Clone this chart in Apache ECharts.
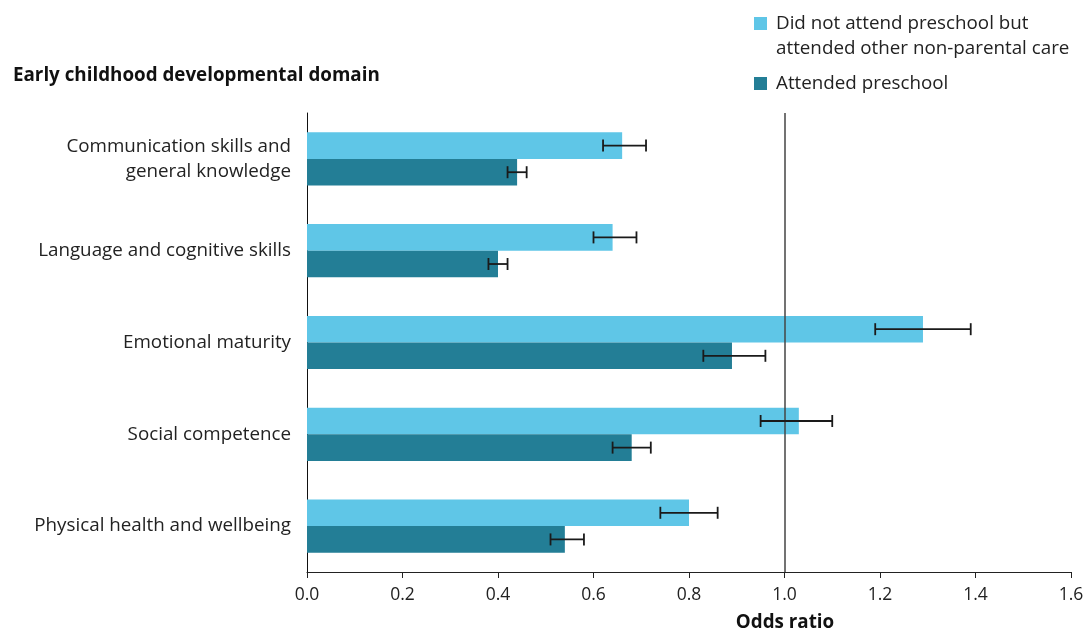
<!DOCTYPE html>
<html>
<head>
<meta charset="utf-8">
<script src="https://cdn.jsdelivr.net/npm/echarts@6/dist/echarts.min.js"></script>
<style>
html,body{margin:0;padding:0;background:#fff;}
#chart{width:1088px;height:633px;}
</style>
</head>
<body>
<div id="chart"></div>
<script>
var categories = ['Communication skills and\ngeneral knowledge', 'Language and cognitive skills', 'Emotional maturity', 'Social competence', 'Physical health and wellbeing'];
var noPreschool = [0.66, 0.64, 1.29, 1.03, 0.80];
var noPreschoolLow = [0.62, 0.60, 1.19, 0.95, 0.74];
var noPreschoolHigh = [0.71, 0.69, 1.39, 1.10, 0.86];
var preschool = [0.44, 0.40, 0.89, 0.68, 0.54];
var preschoolLow = [0.42, 0.38, 0.83, 0.64, 0.51];
var preschoolHigh = [0.46, 0.42, 0.96, 0.72, 0.58];
var xTicks = [0, 0.2, 0.4, 0.6, 0.8, 1.0, 1.2, 1.4, 1.6];
var refValue = 1.0;
var seriesNames = ['Did not attend preschool but\nattended other non-parental care', 'Attended preschool'];

var FONT = '"Open Sans", "Noto Sans", sans-serif';
var FS = 18.8;
var LIGHT = '#5FC6E7';
var DARK = '#237E96';
var GAP = 0.42;

function errData(lo, hi) {
  return lo.map(function (l, i) { return [i, l, hi[i]]; });
}
function errRender(side) {
  return function (params, api) {
    var idx = api.value(0);
    var lo = api.coord([api.value(1), idx]);
    var hi = api.coord([api.value(2), idx]);
    var band = api.size([0, 1])[1];
    var bw = band * (1 - GAP) / 2;
    var y = lo[1] + side * bw / 2;
    var cap = 6;
    var st = { stroke: '#1a1a1a', lineWidth: 1.8 };
    return {
      type: 'group',
      children: [
        { type: 'line', shape: { x1: lo[0], y1: y, x2: hi[0], y2: y }, style: st },
        { type: 'line', shape: { x1: lo[0], y1: y - cap, x2: lo[0], y2: y + cap }, style: st },
        { type: 'line', shape: { x1: hi[0], y1: y - cap, x2: hi[0], y2: y + cap }, style: st }
      ]
    };
  };
}

var chart = echarts.init(document.getElementById('chart'));
chart.setOption({
  animation: false,
  textStyle: { fontFamily: FONT },
  grid: { left: 307, right: 17, top: 113, bottom: 61 },
  legend: [{
    data: [seriesNames[0]],
    orient: 'vertical',
    left: 749, top: -19,
    itemWidth: 13, itemHeight: 13,
    icon: 'rect',
    formatter: function (name) { return ' \n' + name; },
    textStyle: { fontFamily: FONT, fontSize: FS, color: '#222', lineHeight: 25, padding: [0, 0, 0, 4] }
  }, {
    data: [seriesNames[1]],
    orient: 'vertical',
    left: 749, top: 66,
    itemWidth: 13, itemHeight: 13,
    icon: 'rect',
    textStyle: { fontFamily: FONT, fontSize: FS, color: '#222', lineHeight: 25, padding: [0, 0, 0, 4] }
  }],
  graphic: [{
    type: 'text', x: 13, y: 76,
    style: { text: 'Early childhood developmental domain', font: 'bold ' + FS + 'px ' + FONT, fill: '#111', verticalAlign: 'middle' }
  }, {
    type: 'text', x: 785, y: 623,
    style: { text: 'Odds ratio', font: 'bold ' + FS + 'px ' + FONT, fill: '#111', align: 'center', verticalAlign: 'middle' }
  }],
  xAxis: {
    type: 'value', min: 0, max: 1.6, interval: 0.2,
    axisLine: { show: true, lineStyle: { color: '#222', width: 1 } },
    axisTick: { show: true, length: 6, lineStyle: { color: '#222' } },
    splitLine: { show: false },
    axisLabel: { fontFamily: FONT, fontSize: 17.5, color: '#222', margin: 14,
      formatter: function (v) { return v.toFixed(1); } }
  },
  yAxis: {
    type: 'category', data: categories, inverse: true,
    axisLine: { show: true, lineStyle: { color: '#111', width: 1 } },
    axisTick: { show: false },
    axisLabel: { fontFamily: FONT, fontSize: FS, color: '#222', margin: 16, lineHeight: 25, align: 'right' }
  },
  series: [{
    name: seriesNames[0], type: 'bar', data: noPreschool,
    barGap: '0%', barCategoryGap: (GAP * 100) + '%',
    itemStyle: { color: LIGHT },
    markLine: {
      silent: true, symbol: 'none', label: { show: false },
      lineStyle: { color: '#444', width: 1.5, type: 'solid' },
      data: [{ xAxis: refValue }]
    }
  }, {
    name: seriesNames[1], type: 'bar', data: preschool,
    barGap: '0%', barCategoryGap: (GAP * 100) + '%',
    itemStyle: { color: DARK }
  }, {
    type: 'custom', renderItem: errRender(-1), data: errData(noPreschoolLow, noPreschoolHigh),
    encode: { x: [1, 2], y: 0 }, z: 10, silent: true
  }, {
    type: 'custom', renderItem: errRender(1), data: errData(preschoolLow, preschoolHigh),
    encode: { x: [1, 2], y: 0 }, z: 10, silent: true
  }]
});
</script>
</body>
</html>
